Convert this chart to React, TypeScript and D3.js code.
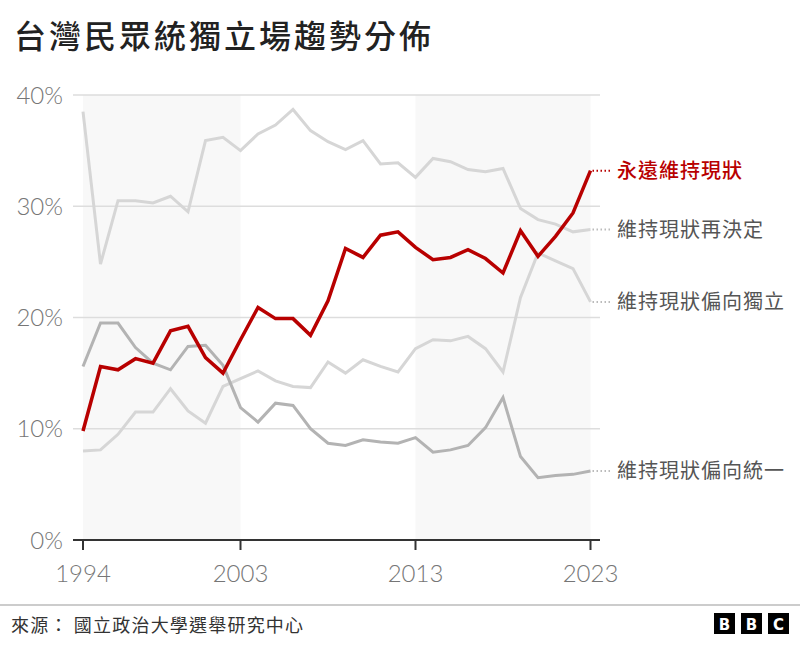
import React from 'react';
import * as d3 from 'd3';

// 年份 1994–2023
const years: number[] = d3.range(1994, 2024);

// 各立場百分比
const foreverStatusQuo = [
  9.8, 15.6, 15.3, 16.3, 15.9, 18.8, 19.2, 16.4, 15.0, 18.0,
  20.9, 19.9, 19.9, 18.4, 21.5, 26.2, 25.4, 27.4, 27.7, 26.3,
  25.2, 25.4, 26.1, 25.3, 24.0, 27.8, 25.5, 27.3, 29.4, 33.2,
];
const decideLater = [
  38.5, 24.8, 30.5, 30.5, 30.3, 30.9, 29.5, 35.9, 36.2, 35.0,
  36.5, 37.3, 38.7, 36.8, 35.8, 35.1, 35.9, 33.8, 33.9, 32.6,
  34.3, 34.0, 33.3, 33.1, 33.4, 29.8, 28.8, 28.4, 27.7, 27.9,
];
const towardIndependence = [
  8.0, 8.1, 9.5, 11.5, 11.5, 13.6, 11.6, 10.5, 13.8, 14.5,
  15.2, 14.3, 13.8, 13.7, 16.0, 15.0, 16.2, 15.6, 15.1, 17.2,
  18.0, 17.9, 18.3, 17.2, 15.1, 21.8, 25.8, 25.1, 24.4, 21.4,
];
const towardUnification = [
  15.6, 19.5, 19.5, 17.3, 15.9, 15.3, 17.4, 17.5, 15.7, 11.9,
  10.6, 12.3, 12.1, 10.0, 8.7, 8.5, 9.0, 8.8, 8.7, 9.2,
  7.9, 8.1, 8.5, 10.1, 12.8, 7.5, 5.6, 5.8, 5.9, 6.2,
];

const yTicks = [0, 10, 20, 30, 40];
const xTicks = [1994, 2003, 2013, 2023];
const bands: [number, number][] = [[1994, 2003], [2013, 2023]];

const seriesNames = ['維持現狀再決定', '維持現狀偏向獨立', '維持現狀偏向統一', '永遠維持現狀'];
const seriesValues = [decideLater, towardIndependence, towardUnification, foreverStatusQuo];
const seriesColors = ['#d6d6d6', '#d6d6d6', '#b3b3b3', '#b80000'];
const labelColors = ['#555555', '#555555', '#555555', '#b80000'];

const W = 800;
const H = 646;
const FONT_LATIN = 'Lato, "Open Sans", sans-serif';
const FONT_CJK = '"Noto Sans CJK TC", "Noto Sans CJK SC", sans-serif';

export default function App() {
  const x = d3.scaleLinear().domain([1994, 2023]).range([83, 590.5]);
  const y = d3.scaleLinear().domain([0, 40]).range([540, 95]);

  const line = d3.line<number>()
    .x((_, i) => x(years[i]))
    .y(d => y(d));

  return (
    <svg width={W} height={H} style={{ position: 'absolute', left: 0, top: 0, background: '#fff' }}>
      {/* 標題 */}
      <text x={14} y={48} fontFamily={FONT_CJK} fontSize={32} fontWeight={500}
        fill="#222" letterSpacing={3}>台灣民眾統獨立場趨勢分佈</text>

      {/* 灰底區段 */}
      {bands.map(([a, b]) => (
        <rect key={a} x={x(a)} y={y(40)} width={x(b) - x(a)} height={y(0) - y(40)} fill="#f8f8f8" />
      ))}

      {/* 格線與 Y 軸標籤 */}
      {yTicks.map(t => (
        <g key={t}>
          {t > 0 && <line x1={73} x2={600} y1={y(t)} y2={y(t)} stroke="#dddddd" strokeWidth={1.5} />}
          <text x={63} y={y(t)} dy="0.36em" textAnchor="end" fontFamily={FONT_LATIN}
            fontWeight={300} fontSize={24} fill="#767676">{t}%</text>
        </g>
      ))}

      {/* 線 */}
      {seriesValues.map((vals, i) => (
        <path key={seriesNames[i]} d={line(vals) || ''} fill="none" stroke={seriesColors[i]}
          strokeWidth={i === 3 ? 3.5 : 3} strokeLinejoin="miter" />
      ))}

      {/* 右側標籤 */}
      {seriesValues.map((vals, i) => {
        const yy = y(vals[vals.length - 1]);
        return (
          <g key={'lab' + i}>
            <line x1={x(2023) + 2} x2={612} y1={yy} y2={yy} stroke={i === 3 ? '#b80000' : '#bbbbbb'}
              strokeWidth={2} strokeDasharray="1.5,2.5" />
            <text x={617} y={yy} dy="0.36em" fontFamily={FONT_CJK} fontSize={20} letterSpacing={1}
              fontWeight={i === 3 ? 500 : 400} fill={labelColors[i]}>{seriesNames[i]}</text>
          </g>
        );
      })}

      {/* X 軸 */}
      <line x1={73} x2={600} y1={y(0)} y2={y(0)} stroke="#333" strokeWidth={2} />
      {xTicks.map(t => (
        <g key={t}>
          <line x1={x(t)} x2={x(t)} y1={y(0)} y2={y(0) + 10} stroke="#333" strokeWidth={2} />
          <text x={x(t)} y={582} textAnchor="middle" fontFamily={FONT_LATIN} fontWeight={300}
            fontSize={24} fill="#767676">{t}</text>
        </g>
      ))}

      {/* 頁尾 */}
      <line x1={0} x2={W} y1={605} y2={605} stroke="#999" strokeWidth={1.2} />
      <text x={11} y={632} fontFamily={FONT_CJK} fontSize={18} letterSpacing={1.2} fill="#333">來源： 國立政治大學選舉研究中心</text>
      {['B', 'B', 'C'].map((c, i) => (
        <g key={i}>
          <rect x={714 + i * 27} y={613} width={21} height={21} fill="#000" />
          <text x={724.5 + i * 27} y={630} textAnchor="middle" fontFamily='"DejaVu Sans", sans-serif'
            fontWeight={700} fontSize={15} fill="#fff">{c}</text>
        </g>
      ))}
    </svg>
  );
}
